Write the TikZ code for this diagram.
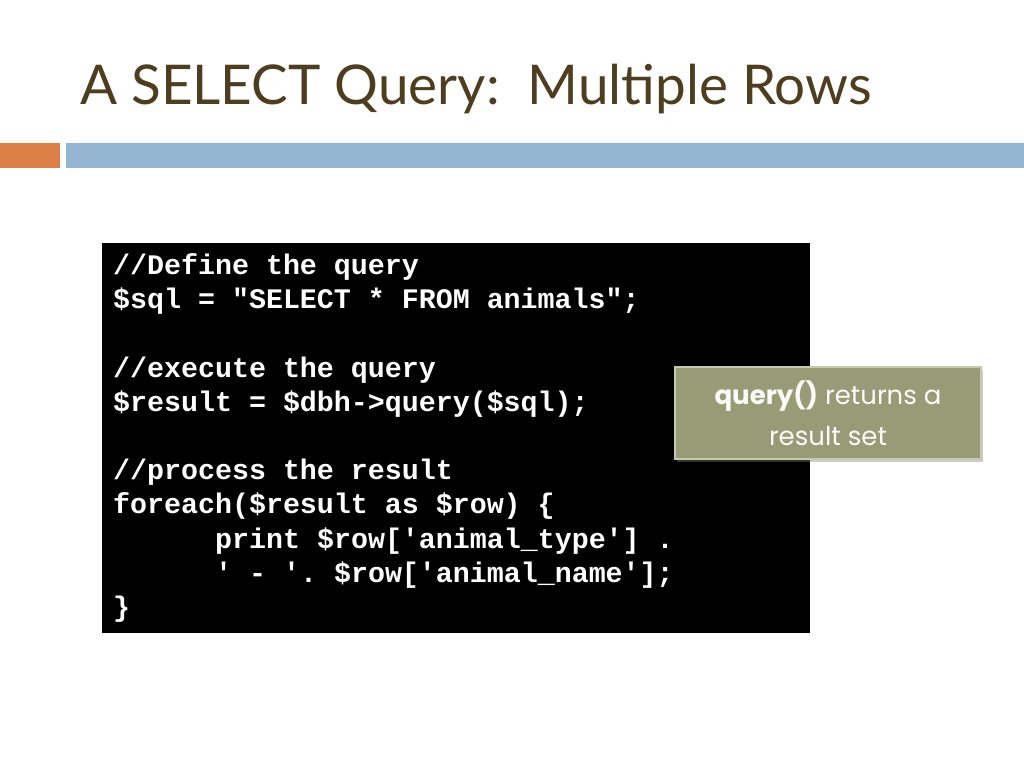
\documentclass[tikz,border=0pt]{standalone}
\usepackage{fontspec}
\setmainfont{Lato}
\setmonofont{Liberation Mono}
\newfontfamily\calloutfont{Poppins}
\usetikzlibrary{positioning,shadows}
\definecolor{titlebrown}{RGB}{78,62,31}
\definecolor{barorange}{RGB}{221,128,71}
\definecolor{barblue}{RGB}{148,182,210}
\definecolor{noteolive}{RGB}{152,155,118}
\definecolor{noteedge}{RGB}{200,202,176}

\begin{document}
\begin{tikzpicture}[
    x=1pt, y=-1pt,
    titlelbl/.style={anchor=base west, inner sep=0pt, text=titlebrown,
        font=\fontsize{54.8}{60}\selectfont},
    codeline/.style={anchor=base west, inner sep=0pt, text=white,
        font=\fontsize{28.3}{34}\ttfamily\bfseries},
    notebox/.style={draw=noteedge, line width=1.5pt, fill=noteolive,
        text=white!96!noteolive, align=center, inner sep=0pt,
        minimum width=306pt, minimum height=92pt,
        font=\fontsize{26}{41}\calloutfont,
        drop shadow={shadow xshift=2pt, shadow yshift=-3pt, opacity=0.4}},
]
\useasboundingbox (0,0) rectangle (1024,768);
\fill[white] (0,0) rectangle (1024,768);

% === TITLE ===
\node[titlelbl] (title) at (80,104) {A SELECT Query:\ \ Multiple Rows};

% === BARS ===
\fill[barorange] (0,143) rectangle (60,168);
\fill[barblue] (66,143) rectangle (1024,168);

% === CODE BLOCK ===
\fill[black] (102,243) rectangle (810,633);
\node[codeline] (l1) at (113,274) {//Define the query};
\node[codeline] (l2) at (113,308) {\$sql = "SELECT * FROM animals";};
\node[codeline] (l3) at (113,377) {//execute the query};
\node[codeline] (l4) at (113,411) {\$result = \$dbh->query(\$sql);};
\node[codeline] (l5) at (113,479) {//process the result};
\node[codeline] (l6) at (113,513) {foreach(\$result as \$row) \{};
\node[codeline] (l7) at (215,548) {print \$row['animal\_type'] .};
\node[codeline] (l8) at (215,582) {' - '. \$row['animal\_name'];};
\node[codeline] (l9) at (113,616) {\}};

% === CALLOUT ===
\node[notebox] (note) at (828,413) {\textbf{query()} returns a\\result set};

\end{tikzpicture}
\end{document}
